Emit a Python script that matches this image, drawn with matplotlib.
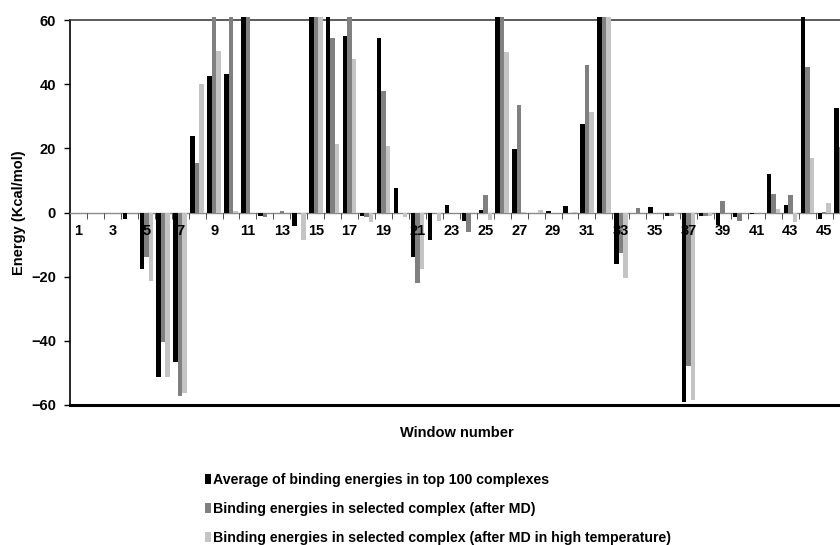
import matplotlib
matplotlib.use('Agg')
import matplotlib.pyplot as plt
import numpy as np
from matplotlib.ticker import FixedLocator, FixedFormatter

plt.rcParams['font.family'] = ['Liberation Sans', 'DejaVu Sans']
plt.rcParams['font.weight'] = 'bold'

# window numbers 1..46
windows = list(range(1, 47))

# Average of binding energies in top 100 complexes
avg_top100 = [0, 0, 0, -2, -17.5, -51.2, -46.5, 23.9, 42.5, 43.1,
              61, -1, 0, -4.2, 61, 61, 54.9, -1, 54.4, 7.5,
              -14, -8.6, 2.3, -2.6, 0.7, 61, 19.9, 0, 0.4, 2,
              27.5, 61, -15.9, 0, 1.6, -1.2, -59, -1, -3.9, -1.3,
              -0.5, 11.9, 2.3, 61, -1.9, 32.7]
# Binding energies in selected complex (after MD)
after_md = [0, 0, 0, 0, -13.8, -40.3, -57.2, 15.5, 61, 61,
            61, -1.5, 0.5, 0, 61, 54.4, 61, -1.5, 37.8, -0.3,
            -21.9, 0, 0, -6, 5.4, 61, 33.5, 0, 0, 0,
            46.1, 61, -12.5, 1.5, 0, -1.2, -47.9, -1, 3.5, -2.6,
            0, 5.9, 5.4, 45.2, 0.3, 20.5]
# Binding energies in selected complex (after MD in high temperature)
after_md_hot = [0, 0, 0, 0, -21.3, -51.2, -56.2, 40, 50.4, 0.5,
                0, 0, 0, -8.6, 61, 21.2, 47.7, -3.1, 20.8, -1.3,
                -17.5, -2.6, 0, 0, -2.4, 50.1, 0.3, 0.8, 0, 0.3,
                31.3, 61, -20.3, 0, 0, -0.5, -58.5, -1, 0, 0,
                0, 1, -3.1, 17.1, 3, 0]

labels = ['Average of binding energies in top 100 complexes',
          'Binding energies in selected complex (after MD)',
          'Binding energies in selected complex (after MD in high temperature)']
colors = ['#000000', '#808080', '#c4c4c4']

fig = plt.figure(figsize=(8.4, 5.45), dpi=100)
ax = fig.add_axes([70 / 840, 1 - 405 / 545, 770 / 840, 385 / 545])

x = np.arange(len(windows))
w = 0.265
bars = []
for k, (vals, col, lab) in enumerate(zip([avg_top100, after_md, after_md_hot], colors, labels)):
    b = ax.bar(x + (k - 1) * w, vals, w, color=col, label=lab, clip_on=False, zorder=3)
    bars.append(b)

ax.set_ylim(-60, 60)
ax.set_xlim(-0.5, 44.93)
ax.set_yticks(np.arange(-60, 61, 20))
ax.tick_params(axis='y', direction='out', length=4, width=1, pad=6, labelsize=10.5)

# x axis sits on the zero line
ax.spines['bottom'].set_position(('data', 0))
ax.spines['bottom'].set_color('#8a8a8a')
ax.spines['bottom'].set_linewidth(1)
ax.spines['right'].set_visible(False)
ax.spines['top'].set_color('#404040')
ax.spines['top'].set_linewidth(1.2)
ax.spines['left'].set_linewidth(1.2)
ax.axhline(-60, color='black', lw=2.2, clip_on=False, zorder=4)

ax.xaxis.set_major_locator(FixedLocator(x[::2]))
ax.xaxis.set_major_formatter(FixedFormatter([str(v) for v in windows[::2]]))
ax.xaxis.set_minor_locator(FixedLocator(x[:-1] + 0.5))
ax.tick_params(axis='x', which='major', length=0, pad=8, labelsize=10.5)
ax.tick_params(axis='x', which='minor', direction='out', length=4, color='#333333')
# labels drawn over the bars, as in the original
ax.xaxis.set_zorder(5)

ax.set_ylabel('Energy (Kcal/mol)', fontsize=10.5, fontweight='bold', labelpad=4)
fig.text(457 / 840, 1 - 433 / 545, 'Window number', ha='center', va='center',
         fontsize=10.5, fontweight='bold')

fig.legend(handles=bars, labels=labels, loc='upper left',
           bbox_to_anchor=(205 / 840, 1 - 473 / 545), frameon=False,
           fontsize=10.2, handlelength=0.4, handleheight=0.7, handletextpad=0.15,
           labelspacing=1.05, borderpad=0, borderaxespad=0)

fig.savefig('out.png', dpi=100)
